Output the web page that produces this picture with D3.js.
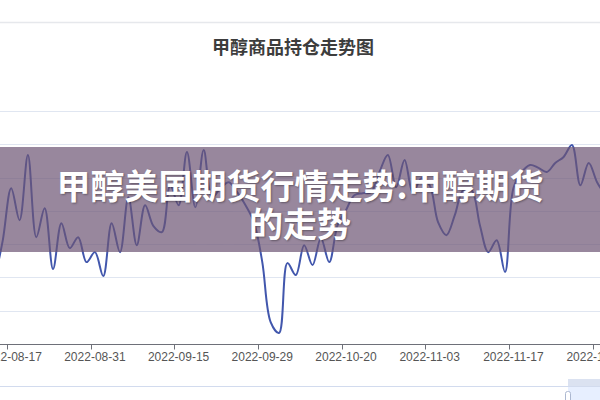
<!DOCTYPE html>
<html lang="zh">

<head>
    <meta charset="UTF-8">
    <title>甲醇商品持仓走势图</title>
    <script src="https://d3js.org/d3.v7.min.js"></script>
    <style>
        body { margin: 0; background: #fff; }
        svg { display: block; font-family: "Noto Sans CJK SC", "Liberation Sans", sans-serif; }
    </style>
</head>

<body>
    <svg id="chart" width="600" height="400"></svg>
    <script>
        // trading days shown (the view is cropped, so one or two spill past each edge)
        const dates = [
            "2022-08-15", "2022-08-16", "2022-08-17", "2022-08-18", "2022-08-19", "2022-08-22", "2022-08-23",
            "2022-08-24", "2022-08-25", "2022-08-26", "2022-08-29", "2022-08-30", "2022-08-31",
            "2022-09-01", "2022-09-02", "2022-09-05", "2022-09-06", "2022-09-07", "2022-09-08", "2022-09-09",
            "2022-09-13", "2022-09-14", "2022-09-15", "2022-09-16", "2022-09-19", "2022-09-20", "2022-09-21",
            "2022-09-22", "2022-09-23", "2022-09-26", "2022-09-27", "2022-09-28", "2022-09-29", "2022-09-30",
            "2022-10-10", "2022-10-11", "2022-10-12", "2022-10-13", "2022-10-14", "2022-10-17", "2022-10-18",
            "2022-10-19", "2022-10-20", "2022-10-21", "2022-10-24", "2022-10-25", "2022-10-26", "2022-10-27",
            "2022-10-28", "2022-10-31",
            "2022-11-01", "2022-11-02", "2022-11-03", "2022-11-04", "2022-11-07", "2022-11-08", "2022-11-09",
            "2022-11-10", "2022-11-11", "2022-11-14", "2022-11-15", "2022-11-16", "2022-11-17", "2022-11-18",
            "2022-11-21", "2022-11-22", "2022-11-23", "2022-11-24", "2022-11-25", "2022-11-28", "2022-11-29",
            "2022-11-30", "2022-12-01", "2022-12-02"
        ];

        // open interest (万手)
        const holdings = [
            99.2, 111.2, 126.8, 117.2, 136.8, 112.1, 120.8, 102.5, 116.3, 108.8, 112.1, 104.6, 107.6,
            100.4, 116.3, 107.6, 124.1, 109.7, 121.7, 115.4, 113.6, 127.7, 121.7, 137.7, 121.1, 138.3,
            124.1, 126.8, 128.6, 125.6, 121.7, 116.6, 104.6, 86.6, 83.3, 104.3, 100.7, 109.7, 103.7,
            111.8, 104.6, 115.7, 120.2, 124.7, 125.3, 125.6, 131.7, 136.8, 127.1, 135.3, 125.3, 129.8,
            127.7, 116.6, 112.7, 118.7, 126.2, 126.2, 115.7, 107.6, 111.2, 101.6, 126.8, 131.7, 133.8,
            132.9, 131.7, 134.4, 136.2, 139.8, 127.7, 134.4, 128.6, 124.7
        ];

        // labelled dates on the x axis
        const tickDates = ["2022-08-17", "2022-08-31", "2022-09-15", "2022-09-29",
            "2022-10-20", "2022-11-03", "2022-11-17", "2022-12-01"];

        // y grid values (axis labels are outside the crop)
        const yTicks = [80, 90, 100, 110, 120, 130, 140, 150];

        const chartTitle = "甲醇商品持仓走势图";
        const bannerLines = ["甲醇美国期货行情走势:甲醇期货", "的走势"];

        const svg = d3.select("#chart");
        const W = 600, H = 400;

        // category axis, boundaryGap style: points sit in band centres
        const x = d3.scaleBand()
            .domain(dates)
            .range([-9.74, 609.64]);
        const y = d3.scaleLinear()
            .domain([80, 150])
            .range([344, 111]);

        // top card border
        svg.append("line")
            .attr("x1", 0).attr("x2", W)
            .attr("y1", 22.5).attr("y2", 22.5)
            .attr("stroke", "#e6e8ec").attr("stroke-width", 1.5);

        // title
        svg.append("text")
            .attr("x", 293).attr("y", 46)
            .attr("text-anchor", "middle")
            .attr("dominant-baseline", "central")
            .attr("font-size", 18)
            .attr("font-weight", "bold")
            .attr("fill", "#3d3d3d")
            .text(chartTitle);

        // horizontal grid lines
        svg.append("g")
            .selectAll("line")
            .data(yTicks.slice(1))
            .join("line")
            .attr("x1", 0).attr("x2", W)
            .attr("y1", d => Math.round(y(d)) + 0.5)
            .attr("y2", d => Math.round(y(d)) + 0.5)
            .attr("stroke", "#e0e6f1");

        // x axis line + ticks at band starts
        const axisY = Math.round(y(80)) + 0.5;
        svg.append("line")
            .attr("x1", 0).attr("x2", W)
            .attr("y1", axisY).attr("y2", axisY)
            .attr("stroke", "#6e7079");

        const ticks = svg.append("g");
        ticks.selectAll("line")
            .data(tickDates)
            .join("line")
            .attr("x1", d => Math.round(x(d)) + 0.5)
            .attr("x2", d => Math.round(x(d)) + 0.5)
            .attr("y1", axisY).attr("y2", axisY + 5)
            .attr("stroke", "#6e7079");

        ticks.selectAll("text")
            .data(tickDates)
            .join("text")
            .attr("x", d => x(d) + x.bandwidth() / 2)
            .attr("y", axisY + 12)
            .attr("text-anchor", "middle")
            .attr("dominant-baseline", "central")
            .attr("font-family", "'Liberation Sans', Arial, sans-serif")
            .attr("font-size", 12)
            .attr("fill", "#555")
            .text(d => d);

        // the series, smoothed like the original
        const line = d3.line()
            .x((d, i) => x(dates[i]) + x.bandwidth() / 2)
            .y(d => y(d))
            .curve(d3.curveCatmullRom.alpha(0.5));

        svg.append("path")
            .datum(holdings)
            .attr("d", line)
            .attr("fill", "none")
            .attr("stroke", "#4257ad")
            .attr("stroke-width", 2)
            .attr("stroke-linejoin", "round");

        // data zoom slider at the bottom (only its top shows)
        svg.append("rect")
            .attr("x", -1).attr("y", 386.5)
            .attr("width", W + 2).attr("height", 40)
            .attr("fill", "none")
            .attr("stroke", "#d2dbee");
        svg.append("rect")
            .attr("x", 568).attr("y", 387)
            .attr("width", 40).attr("height", 20)
            .attr("fill", "rgba(135,175,274,0.2)");
        svg.append("rect")
            .attr("x", 568).attr("y", 379)
            .attr("width", 40).attr("height", 7)
            .attr("fill", "#d2dbee")
            .attr("opacity", 0.8);
        svg.append("rect")
            .attr("x", 565.5).attr("y", 391.5)
            .attr("width", 5).attr("height", 14)
            .attr("rx", 2)
            .attr("fill", "#fff")
            .attr("stroke", "#acb8d1");

        // faint watermark logo
        svg.append("circle")
            .attr("cx", 215).attr("cy", 224).attr("r", 25)
            .attr("fill", "none")
            .attr("stroke", "rgba(255,255,255,0.15)")
            .attr("stroke-width", 6);

        // purple banner overlay with the headline
        svg.append("rect")
            .attr("x", 0).attr("y", 147)
            .attr("width", W).attr("height", 105)
            .attr("fill", "rgba(108,84,116,0.7)");

        svg.append("g")
            .selectAll("text")
            .data(bannerLines)
            .join("text")
            .attr("x", 300)
            .attr("y", (d, i) => 184 + i * 38)
            .attr("text-anchor", "middle")
            .attr("dominant-baseline", "central")
            .attr("font-size", 34)
            .attr("font-weight", "bold")
            .attr("fill", "#fff")
            .style("text-shadow", "1px 1px 2px rgba(0,0,0,0.35)")
            .text(d => d);
    </script>
</body>

</html>
